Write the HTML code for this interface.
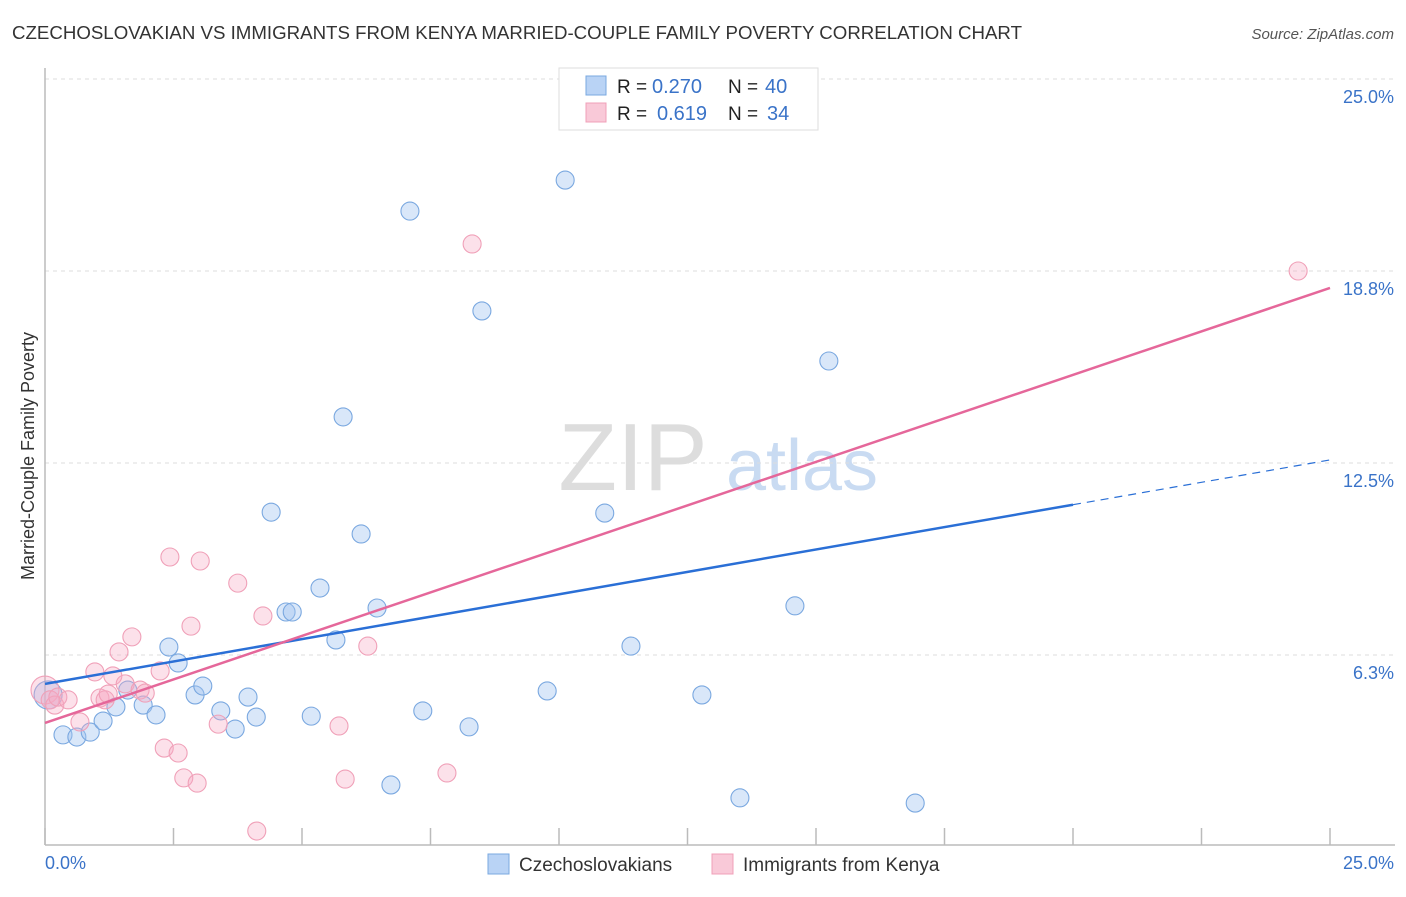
<!DOCTYPE html>
<html><head><meta charset="utf-8"><style>
body{margin:0;background:#fff;font-family:"Liberation Sans",sans-serif;}
svg text{font-family:"Liberation Sans",sans-serif;}
</style></head><body>
<svg id="chart" width="1406" height="892" xmlns="http://www.w3.org/2000/svg">
<text x="12" y="39" font-size="18" fill="#333" textLength="1010" lengthAdjust="spacingAndGlyphs">CZECHOSLOVAKIAN VS IMMIGRANTS FROM KENYA MARRIED-COUPLE FAMILY POVERTY CORRELATION CHART</text>
<text x="1394" y="39" font-size="15" fill="#555" font-style="italic" text-anchor="end">Source: ZipAtlas.com</text>
<g>
<text x="633" y="490" font-size="96" font-family="Liberation Serif,serif" fill="#ddd" text-anchor="middle">ZIP</text>
<text x="802" y="490" font-size="72" fill="#c9dbf2" text-anchor="middle">atlas</text>
</g>
<g id="grid"></g>
<g id="axes"></g>
<g id="marks"></g>
<text transform="translate(34,456) rotate(-90)" font-size="18" fill="#333" text-anchor="middle">Married-Couple Family Poverty</text>
<text x="45" y="869" font-size="18" fill="#3a73c8">0.0%</text>
<text x="1394" y="869" font-size="18" fill="#3a73c8" text-anchor="end">25.0%</text>
<g>
<rect x="559" y="68" width="259" height="62" fill="#fff" stroke="#ddd"/>
<rect x="586" y="76" width="20" height="19" fill="#b9d3f5" stroke="#7aa8e0"/>
<rect x="586" y="103" width="20" height="19" fill="#f9c9d8" stroke="#f0a0b8"/>
<text x="617" y="93" font-size="19" fill="#222">R =</text>
<text x="652" y="93" font-size="20" fill="#3a73c8">0.270</text>
<text x="728" y="93" font-size="19" fill="#222">N =</text>
<text x="765" y="93" font-size="20" fill="#3a73c8">40</text>
<text x="617" y="120" font-size="19" fill="#222">R =</text>
<text x="657" y="120" font-size="20" fill="#3a73c8">0.619</text>
<text x="728" y="120" font-size="19" fill="#222">N =</text>
<text x="767" y="120" font-size="20" fill="#3a73c8">34</text>
</g>
<g>
<rect x="488" y="854" width="21" height="20" fill="#b9d3f5" stroke="#7aa8e0"/>
<text x="519" y="871" font-size="19" fill="#333">Czechoslovakians</text>
<rect x="712" y="854" width="21" height="20" fill="#f9c9d8" stroke="#f0a0b8"/>
<text x="743" y="871" font-size="19" fill="#333">Immigrants from Kenya</text>
</g>
</svg>
<script>
const yTicks=[6.25,12.5,18.75,25];
const yTickLabels=["6.3%","12.5%","18.8%","25.0%"];
const xTicks=[0,2.5,5,7.5,10,12.5,15,17.5,20,22.5,25];
const czX=[0.06,0.35,0.62,0.88,1.13,1.38,1.61,1.91,2.16,2.41,2.59,2.92,3.07,3.42,3.70,3.95,4.11,4.40,4.69,4.81,5.18,5.35,5.66,5.80,6.15,6.46,6.73,7.10,7.35,8.25,8.50,9.77,10.12,10.89,11.40,12.78,13.52,14.59,15.25,16.93];
const czY=[4.95,3.65,3.58,3.74,4.10,4.56,5.11,4.62,4.30,6.51,5.99,4.95,5.24,4.43,3.84,4.88,4.23,10.90,7.65,7.65,4.26,8.43,6.74,14.00,10.19,7.78,2.02,20.70,4.43,3.91,17.45,5.08,21.71,10.87,6.54,4.95,1.60,7.85,15.82,1.43];
const keX=[0.0,0.10,0.19,0.25,0.45,0.68,0.97,1.07,1.17,1.23,1.32,1.44,1.56,1.69,1.85,1.95,2.24,2.32,2.43,2.59,2.70,2.84,2.96,3.02,3.37,3.75,4.12,4.24,5.72,5.84,6.28,7.82,8.31,24.38];
const keY=[5.11,4.79,4.62,4.88,4.79,4.07,5.70,4.85,4.79,4.98,5.57,6.35,5.31,6.84,5.11,5.01,5.73,3.22,9.44,3.06,2.25,7.19,2.08,9.31,4.00,8.59,0.52,7.52,3.94,2.21,6.54,2.41,19.63,18.75];
const czTrend=[5.31,12.6];
const czSolidEnd=20;
const keTrend=[4.04,18.2];

const NS="http://www.w3.org/2000/svg";
const X=v=>45+v*51.4, Y=v=>847-v*30.72;
function mk(tag,attrs,parent){const e=document.createElementNS(NS,tag);for(const k in attrs)e.setAttribute(k,attrs[k]);parent.appendChild(e);return e;}
const grid=document.getElementById('grid'),axes=document.getElementById('axes'),marks=document.getElementById('marks');
yTicks.forEach((t,i)=>{
  const l=mk('line',{x1:45,x2:1395,y1:Y(t),y2:Y(t),stroke:'#ddd','stroke-dasharray':'4,4'},grid);
  
  
  const tx=mk('text',{x:1394,y:Y(t)+24,'font-size':18,fill:'#3a73c8','text-anchor':'end'},grid);
  tx.textContent=yTickLabels[i];
  
  
});
const ya=mk('line',{x1:45,x2:45,y1:68,y2:845,stroke:'#bbb','stroke-width':1.5},axes);


const xa=mk('line',{x1:45,x2:1395,y1:845,y2:845,stroke:'#bbb','stroke-width':1.5},axes);


xTicks.forEach(t=>{
  const l=mk('line',{x1:X(t),x2:X(t),y1:828,y2:845,stroke:'#bbb','stroke-width':1.5},axes);
  
  
});
function pts(xs,ys,fill,stroke,name){
  xs.forEach((x,i)=>{
    const c=mk('circle',{cx:X(x),cy:Y(ys[i]),r:i===0?14:9,fill:fill,stroke:stroke,'stroke-width':1.1},marks);
    
    
  });
}
pts(czX,czY,'rgba(160,196,240,0.4)','#7aa8e0','czech-point');
pts(keX,keY,'rgba(245,170,195,0.35)','#f0a0b8','kenya-point');
const cz=x=>czTrend[0]+(czTrend[1]-czTrend[0])*x/25;
const l1=mk('line',{x1:X(0),y1:Y(cz(0)),x2:X(czSolidEnd),y2:Y(cz(czSolidEnd)),stroke:'#2a6fd6','stroke-width':2.5},marks);


const l2=mk('line',{x1:X(czSolidEnd),y1:Y(cz(czSolidEnd)),x2:X(25),y2:Y(cz(25)),stroke:'#2a6fd6','stroke-width':1.2,'stroke-dasharray':'8,6'},marks);


const l3=mk('line',{x1:X(0),y1:Y(keTrend[0]),x2:X(25),y2:Y(keTrend[1]),stroke:'#e5679a','stroke-width':2.5},marks);


</script>
</body></html>
